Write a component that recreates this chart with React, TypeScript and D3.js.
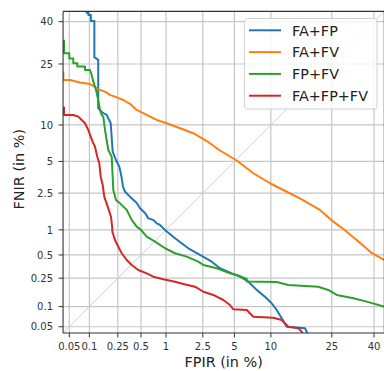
import React from 'react';
import * as d3 from 'd3';

// Tick values (in %) shared by both axes
const tickValues = [0.05, 0.1, 0.25, 0.5, 1, 2.5, 5, 10, 25, 40];
const tickLabels = ['0.05', '0.1', '0.25', '0.5', '1', '2.5', '5', '10', '25', '40'];
const axisMin = 0.04;
const axisMax = 44;

const seriesNames = ['FA+FP', 'FA+FV', 'FP+FV', 'FA+FP+FV'];
const seriesColors = ['#1f77b4', '#ff7f0e', '#2ca02c', '#d62728'];

// FA+FP
const faFpFpir = [0.091, 0.091, 0.0965, 0.0965, 0.105, 0.105, 0.118, 0.118, 0.134, 0.134, 0.155, 0.176, 0.2, 0.213, 0.236, 0.262, 0.28, 0.293, 0.312, 0.362, 0.441, 0.486, 0.56, 0.616, 0.702, 0.778, 0.85, 0.972, 1.265, 1.767, 2.34, 3.07, 3.68, 4.73, 5.6, 6.6, 7.74, 9.0, 10.15, 11.06, 12.03, 13.06, 17.33, 18.1];
const faFpFnir = [48, 43.5, 43.5, 42.6, 42.6, 40.3, 40.3, 27.2, 26.3, 13.3, 12.26, 11.86, 10.35, 6.09, 5.15, 4.49, 3.62, 2.9, 2.58, 2.3, 1.98, 1.74, 1.55, 1.35, 1.3, 1.19, 1.14, 1.0, 0.8, 0.605, 0.5, 0.411, 0.338, 0.29, 0.262, 0.224, 0.173, 0.139, 0.112, 0.0893, 0.0672, 0.05, 0.0474, 0.038];

// FA+FV
const faFvFpir = [0.0404, 0.0404, 0.0513, 0.0727, 0.102, 0.114, 0.134, 0.167, 0.196, 0.2415, 0.296, 0.362, 0.441, 0.588, 0.777, 1.018, 1.437, 1.996, 2.74, 3.68, 5.24, 7.26, 9.85, 13.06, 16.08, 21.4, 25.5, 28.8, 33.5, 39.1, 43.9, 46];
const faFvFnir = [22.6, 20.2, 20.2, 19.5, 19.1, 18.6, 17.7, 17.1, 16.3, 15.7, 15.08, 14.2, 12.88, 11.86, 10.9, 10.3, 9.44, 8.63, 7.47, 6.23, 5.1, 3.9, 3.13, 2.58, 2.21, 1.67, 1.24, 1.025, 0.762, 0.529, 0.432, 0.41];

// FP+FV
const fpFvFpir = [0.0414, 0.0414, 0.05, 0.05, 0.0576, 0.0576, 0.0662, 0.0662, 0.0862, 0.0862, 0.102, 0.108, 0.114, 0.1246, 0.134, 0.142, 0.15, 0.158, 0.167, 0.1855, 0.2066, 0.2172, 0.236, 0.2675, 0.328, 0.381, 0.441, 0.5, 0.588, 0.742, 0.973, 1.265, 1.7, 2.25, 2.53, 3.43, 4.56, 5.24, 6.4, 6.4, 11.06, 13.4, 20.9, 23.9, 26.6, 32.3, 37.2, 43.9, 46];
const fpFvFnir = [33.2, 28.5, 28.5, 26.8, 26.8, 25.2, 25.2, 24.2, 24.2, 23.15, 23.15, 21.65, 19.76, 17.55, 15.08, 12.88, 11.86, 11.53, 9.15, 6.29, 5.51, 2.69, 2.13, 1.96, 1.67, 1.3, 1.09, 1.0, 0.834, 0.727, 0.605, 0.525, 0.476, 0.411, 0.373, 0.338, 0.29, 0.276, 0.244, 0.226, 0.222, 0.202, 0.1915, 0.1725, 0.147, 0.132, 0.118, 0.1004, 0.097];

// FA+FP+FV
const faFpFvFpir = [0.0414, 0.0414, 0.0576, 0.0685, 0.077, 0.0862, 0.0965, 0.1045, 0.114, 0.1205, 0.13, 0.139, 0.1453, 0.155, 0.163, 0.182, 0.202, 0.2106, 0.211, 0.229, 0.254, 0.282, 0.328, 0.381, 0.462, 0.588, 0.707, 0.93, 1.265, 1.56, 2.08, 2.53, 3.18, 3.96, 4.56, 4.89, 6.4, 7.26, 10.44, 12.03, 13.4, 15.67, 16.5, 16.8];
const faFpFvFnir = [13.57, 11.86, 11.86, 11.53, 10.9, 10.3, 9.15, 8.1, 7.16, 6.71, 5.51, 4.81, 3.62, 3.01, 2.3, 1.81, 1.41, 1.04, 0.953, 0.762, 0.632, 0.525, 0.432, 0.373, 0.321, 0.29, 0.262, 0.2415, 0.224, 0.2086, 0.1915, 0.163, 0.147, 0.1247, 0.1056, 0.0914, 0.0893, 0.071, 0.0686, 0.0633, 0.05, 0.0474, 0.042, 0.0386];

const seriesFpir = [faFpFpir, faFvFpir, fpFvFpir, faFpFvFpir];
const seriesFnir = [faFpFnir, faFvFnir, fpFvFnir, faFpFvFnir];

function probit(p: number): number {
  const a = [-3.969683028665376e1, 2.209460984245205e2, -2.759285104469687e2, 1.38357751867269e2, -3.066479806614716e1, 2.506628277459239];
  const b = [-5.447609879822406e1, 1.615858368580409e2, -1.556989798598866e2, 6.680131188771972e1, -1.328068155288572e1];
  const c = [-7.784894002430293e-3, -3.223964580411365e-1, -2.400758277161838, -2.549732539343734, 4.374664141464968, 2.938163982698783];
  const d = [7.784695709041462e-3, 3.224671290700398e-1, 2.445134137142996, 3.754408661907416];
  const plow = 0.02425;
  const phigh = 1 - plow;
  if (p < plow) {
    const q = Math.sqrt(-2 * Math.log(p));
    return (((((c[0] * q + c[1]) * q + c[2]) * q + c[3]) * q + c[4]) * q + c[5]) / ((((d[0] * q + d[1]) * q + d[2]) * q + d[3]) * q + 1);
  }
  if (p <= phigh) {
    const q = p - 0.5;
    const r = q * q;
    return (((((a[0] * r + a[1]) * r + a[2]) * r + a[3]) * r + a[4]) * r + a[5]) * q / (((((b[0] * r + b[1]) * r + b[2]) * r + b[3]) * r + b[4]) * r + 1);
  }
  const q = Math.sqrt(-2 * Math.log(1 - p));
  return -(((((c[0] * q + c[1]) * q + c[2]) * q + c[3]) * q + c[4]) * q + c[5]) / ((((d[0] * q + d[1]) * q + d[2]) * q + d[3]) * q + 1);
}

const W = 384;
const H = 371;
const left = 63.05;
const right = 384.3;
const top = 11.4;
const bottom = 333;

export default function App() {
  const xs = d3.scaleLinear().domain([probit(axisMin / 100), probit(axisMax / 100)]).range([left, right]);
  const ys = d3.scaleLinear().domain([probit(axisMin / 100), probit(axisMax / 100)]).range([bottom, top]);
  const X = (v: number) => xs(probit(v / 100));
  const Y = (v: number) => ys(probit(v / 100));

  const line = d3.line<[number, number]>().x((d) => X(d[0])).y((d) => Y(d[1]));

  const font = "'DejaVu Sans', sans-serif";
  const gridColor = '#c6c6c6';
  const axisColor = '#333333';

  return (
    <svg width={W} height={H} style={{ position: 'absolute', left: 0, top: 0, background: '#fff' }} fontFamily={font}>
      <defs>
        <clipPath id="plotClip">
          <rect x={left} y={top} width={right - left} height={bottom - top} />
        </clipPath>
      </defs>
      <rect x={0} y={0} width={W} height={H} fill="#fff" />
      {/* grid */}
      {tickValues.map((v, i) => (
        <line key={'gx' + i} x1={X(v)} x2={X(v)} y1={top} y2={bottom} stroke={gridColor} strokeWidth={1.2} />
      ))}
      {tickValues.map((v, i) => (
        <line key={'gy' + i} x1={left} x2={right} y1={Y(v)} y2={Y(v)} stroke={gridColor} strokeWidth={1.2} />
      ))}
      {/* diagonal */}
      <line x1={X(axisMin)} y1={Y(axisMin)} x2={X(axisMax)} y2={Y(axisMax)} stroke="#cccccc" strokeWidth={0.9} />
      {/* curves */}
      <g clipPath="url(#plotClip)">
        {seriesNames.map((name, si) => {
          const pts: [number, number][] = seriesFpir[si].map((f, j) => [f, seriesFnir[si][j]]);
          return (
            <path key={name} d={line(pts) || ''} fill="none" stroke={seriesColors[si]} strokeWidth={2} strokeLinejoin="round" />
          );
        })}
      </g>
      {/* spines */}
      <line x1={left} x2={left} y1={top} y2={bottom} stroke={axisColor} strokeWidth={1.1} />
      <line x1={left} x2={right} y1={bottom} y2={bottom} stroke={axisColor} strokeWidth={1.1} />
      <line x1={left} x2={right} y1={top} y2={top} stroke={axisColor} strokeWidth={1.1} />
      <line x1={right} x2={right} y1={top} y2={bottom} stroke={axisColor} strokeWidth={1.1} />
      {/* x ticks */}
      {tickValues.map((v, i) => (
        <g key={'tx' + i}>
          <line x1={X(v)} x2={X(v)} y1={bottom} y2={bottom + 4.5} stroke={axisColor} strokeWidth={1} />
          <text x={X(v)} y={350} fontSize={10} fill={axisColor} textAnchor="middle">{tickLabels[i]}</text>
        </g>
      ))}
      {/* y ticks */}
      {tickValues.map((v, i) => (
        <g key={'ty' + i}>
          <line x1={left - 4.5} x2={left} y1={Y(v)} y2={Y(v)} stroke={axisColor} strokeWidth={1} />
          <text x={53} y={Y(v) + 3.6} fontSize={10} fill={axisColor} textAnchor="end">{tickLabels[i]}</text>
        </g>
      ))}
      {/* axis labels */}
      <text x={(left + right) / 2} y={367} fontSize={14.4} fill="#222" textAnchor="middle">FPIR (in %)</text>
      <text transform={`translate(23.5,${(top + bottom) / 2 - 3}) rotate(-90)`} fontSize={14.4} fill="#222" textAnchor="middle">FNIR (in %)</text>
      {/* legend */}
      <rect x={244.5} y={18.5} width={132.5} height={90.5} rx={3} fill="#fff" fillOpacity={0.8} stroke="#d0d0d0" strokeWidth={1} />
      {seriesNames.map((name, si) => {
        const cy = 30.3 + si * 21.8;
        return (
          <g key={'lg' + si}>
            <line x1={249} x2={281} y1={cy} y2={cy} stroke={seriesColors[si]} strokeWidth={2} />
            <text x={292} y={cy + 5.2} fontSize={14.4} fill="#222">{name}</text>
          </g>
        );
      })}
    </svg>
  );
}
